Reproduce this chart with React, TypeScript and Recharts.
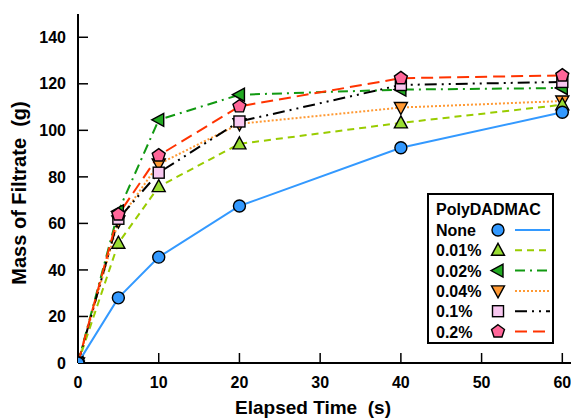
import React from 'react';
import { LineChart, Line, XAxis, YAxis, Legend, Label } from 'recharts';

// Filtration data
const times = [0, 5, 10, 20, 40, 60];
const noneVals = [0, 28, 45.5, 67.5, 92.5, 107.8];
const p001Vals = [0, 51.5, 75.8, 94.2, 103.2, 111];
const p002Vals = [0, 65.2, 104.5, 115.3, 117.5, 118.2];
const p004Vals = [0, 61, 85.5, 102.8, 109.8, 112.6];
const p01Vals = [0, 62, 81.8, 103.8, 119.5, 120.8];
const p02Vals = [0, 63.8, 89.2, 110.3, 122.4, 123.6];

const xTicks = [0, 10, 20, 30, 40, 50, 60];
const yTicks = [0, 20, 40, 60, 80, 100, 120, 140];

const FONT = '"Liberation Sans", Arial, Helvetica, sans-serif';

type Shape = 'circle' | 'triUp' | 'triLeft' | 'triDown' | 'square' | 'pentagon';

interface Series {
  key: string;
  name: string;
  values: number[];
  color: string;
  fill: string;
  dash?: string;
  shape: Shape;
}

const none: Series = { key: 'none', name: 'None', values: noneVals, color: '#3399ff', fill: '#3399ff', shape: 'circle' };
const p001: Series = { key: 'p001', name: '0.01%', values: p001Vals, color: '#99cc00', fill: '#99dd33', dash: '7 5', shape: 'triUp' };
const p002: Series = { key: 'p002', name: '0.02%', values: p002Vals, color: '#119911', fill: '#22aa22', dash: '10 5 2 5', shape: 'triLeft' };
const p004: Series = { key: 'p004', name: '0.04%', values: p004Vals, color: '#ff9933', fill: '#ff9933', dash: '2 2', shape: 'triDown' };
const p01: Series = { key: 'p01', name: '0.1%', values: p01Vals, color: '#000000', fill: '#f8c8f0', dash: '12 5 2 5 2 5', shape: 'square' };
const p02: Series = { key: 'p02', name: '0.2%', values: p02Vals, color: '#ff3300', fill: '#ff6699', dash: '12 6', shape: 'pentagon' };

// draw order (last on top) vs legend order
const drawOrder = [p004, p002, p001, p01, p02, none];
const legendOrder = [none, p001, p002, p004, p01, p02];

const chartData = times.map((t, i) => {
  const row: Record<string, number> = { t };
  legendOrder.forEach((s) => {
    row[s.key] = s.values[i];
  });
  return row;
});

function Marker({ shape, cx, cy, fill }: { shape: Shape; cx: number; cy: number; fill: string }) {
  const common = { fill, stroke: '#000', strokeWidth: 1.4 };
  switch (shape) {
    case 'circle':
      return <circle cx={cx} cy={cy} r={6} {...common} />;
    case 'triUp':
      return <polygon points={`${cx},${cy - 7} ${cx + 6.5},${cy + 5} ${cx - 6.5},${cy + 5}`} {...common} />;
    case 'triDown':
      return <polygon points={`${cx},${cy + 7} ${cx + 6.5},${cy - 5} ${cx - 6.5},${cy - 5}`} {...common} />;
    case 'triLeft':
      return <polygon points={`${cx - 7},${cy} ${cx + 5},${cy - 6.5} ${cx + 5},${cy + 6.5}`} {...common} />;
    case 'square':
      return <rect x={cx - 5.5} y={cy - 5.5} width={11} height={11} {...common} />;
    case 'pentagon': {
      const pts = [0, 1, 2, 3, 4]
        .map((k) => {
          const a = ((-90 + 72 * k) * Math.PI) / 180;
          return `${cx + 6.8 * Math.cos(a)},${cy + 6.8 * Math.sin(a)}`;
        })
        .join(' ');
      return <polygon points={pts} {...common} />;
    }
  }
  return null;
}

const renderLegend = () => (
  <svg width={127} height={151} style={{ display: 'block' }}>
    <rect x={1} y={1} width={125} height={149} fill="#fff" stroke="#000" strokeWidth={2} />
    <text x={9} y={22} fontSize={16} fontWeight={700} fontFamily={FONT} fill="#000">
      PolyDADMAC
    </text>
    {legendOrder.map((s, i) => {
      const cy = 37 + i * 20.3;
      return (
        <g key={s.key}>
          <text x={9} y={cy + 6} fontSize={16} fontWeight={700} fontFamily={FONT} fill="#000">
            {s.name}
          </text>
          <Marker shape={s.shape} cx={71} cy={cy} fill={s.fill} />
          <line x1={88} x2={123} y1={cy} y2={cy} stroke={s.color} strokeWidth={2} strokeDasharray={s.dash} />
        </g>
      );
    })}
  </svg>
);

const tickStyle = { fill: '#000', fontSize: 16, fontWeight: 700, fontFamily: FONT };

export default function App() {
  return (
    <div style={{ position: 'absolute', left: 0, top: 0, width: 571, height: 419, overflow: 'hidden', background: '#fff' }}>
      <LineChart width={580} height={419} data={chartData} margin={{ top: 14, right: 8, bottom: 0, left: 0 }}>
        <XAxis
          dataKey="t"
          type="number"
          domain={[0, 61.2]}
          ticks={xTicks}
          interval={0}
          allowDataOverflow
          height={56}
          tickSize={-10}
          tickMargin={24}
          tick={tickStyle}
          axisLine={{ stroke: '#000', strokeWidth: 2 }}
          tickLine={{ stroke: '#000', strokeWidth: 1.5 }}
        >
          <Label
            content={() => (
              <text x={313} y={414} textAnchor="middle" fontSize={19} fontWeight={700} fontFamily={FONT} fill="#000" style={{ whiteSpace: 'pre' }}>
                Elapsed Time  (s)
              </text>
            )}
          />
        </XAxis>
        <XAxis
          xAxisId="top"
          orientation="top"
          dataKey="t"
          type="number"
          domain={[0, 61.2]}
          ticks={xTicks}
          interval={0}
          allowDataOverflow
          height={0}
          tickSize={-10}
          tick={false}
          axisLine={{ stroke: '#000', strokeWidth: 2 }}
          tickLine={{ stroke: '#000', strokeWidth: 1.5 }}
        />
        <YAxis
          type="number"
          domain={[0, 150]}
          ticks={yTicks}
          interval={0}
          allowDataOverflow
          width={78}
          tickSize={-10}
          tickMargin={22}
          tick={tickStyle}
          axisLine={{ stroke: '#000', strokeWidth: 2 }}
          tickLine={{ stroke: '#000', strokeWidth: 1.5 }}
        >
          <Label
            content={() => (
              <text
                x={19}
                y={193}
                transform="rotate(-90 19 193)"
                textAnchor="middle"
                dominantBaseline="central"
                fontSize={20}
                fontWeight={700}
                fontFamily={FONT}
                fill="#000"
                style={{ whiteSpace: 'pre' }}
              >
                Mass of Filtrate  (g)
              </text>
            )}
          />
        </YAxis>
        <YAxis
          yAxisId="right"
          orientation="right"
          type="number"
          domain={[0, 150]}
          ticks={yTicks}
          interval={0}
          width={0}
          tickSize={-10}
          tick={false}
          axisLine={{ stroke: '#000', strokeWidth: 2 }}
          tickLine={{ stroke: '#000', strokeWidth: 1.5 }}
        />
        {drawOrder.map((s) => (
          <Line
            key={s.key}
            dataKey={s.key}
            name={s.name}
            type="linear"
            stroke={s.color}
            strokeWidth={2}
            strokeDasharray={s.dash}
            isAnimationActive={false}
            activeDot={false}
            dot={(p: any) => <Marker key={`${s.key}-${p.index}`} shape={s.shape} cx={p.cx} cy={p.cy} fill={s.fill} />}
          />
        ))}
        <Legend
          layout="horizontal"
          verticalAlign="middle"
          align="center"
          wrapperStyle={{ left: 427, top: 193, width: 127, height: 151 }}
          content={renderLegend}
        />
      </LineChart>
    </div>
  );
}
